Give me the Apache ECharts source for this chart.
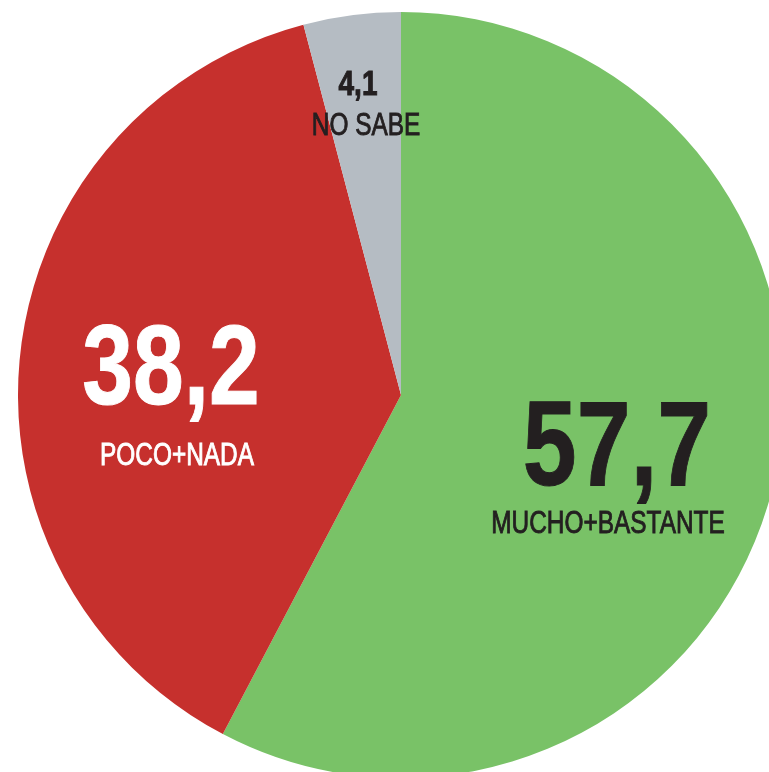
<!DOCTYPE html>
<html>
<head>
<meta charset="utf-8">
<script src="https://cdn.jsdelivr.net/npm/echarts@6/dist/echarts.min.js"></script>
<style>
html,body{margin:0;padding:0;background:#fff;}
#chart{width:769px;height:772px;}
</style>
</head>
<body>
<div id="chart"></div>
<script>
const categories = ['MUCHO+BASTANTE', 'POCO+NADA', 'NO SABE'];
const values = [57.7, 38.2, 4.1];
const colors = ['#79C267', '#C6302D', '#B5BCC3'];

const FONT = '"Liberation Sans", Arial, sans-serif';
const fmt = v => v.toFixed(1).replace('.', ',');

const chart = echarts.init(document.getElementById('chart'), null, {renderer: 'canvas'});

const labelSpec = [
  {num: {x: 617, y: 452, size: 121, color: '#231F20'}, cat: {x: 608, y: 525, size: 30.5, color: '#231F20'}},
  {num: {x: 171, y: 373, size: 114, color: '#FFFFFF'}, cat: {x: 177, y: 457, size: 30.5, color: '#FFFFFF'}},
  {num: {x: 358, y: 85, size: 35, color: '#231F20'}, cat: {x: 366, y: 127, size: 30.5, color: '#231F20'}}
];
const SX = 0.8;

const graphics = [];
categories.forEach((c, i) => {
  const s = labelSpec[i];
  graphics.push({
    type: 'text', x: s.num.x, y: s.num.y, z: 10, scaleX: SX,
    style: {text: fmt(values[i]), fill: s.num.color, stroke: s.num.color, lineWidth: 1,
            font: 'bold ' + s.num.size + 'px ' + FONT,
            textAlign: 'center', textVerticalAlign: 'middle'}
  });
  graphics.push({
    type: 'text', x: s.cat.x, y: s.cat.y, z: 10, scaleX: SX,
    style: {text: c, fill: s.cat.color, stroke: s.cat.color, lineWidth: 0.9,
            font: s.cat.size + 'px ' + FONT,
            textAlign: 'center', textVerticalAlign: 'middle'}
  });
});

chart.setOption({
  animation: false,
  backgroundColor: '#ffffff',
  series: [{
    type: 'pie',
    center: [401, 395],
    radius: [0, 383],
    startAngle: 90,
    clockwise: true,
    label: {show: false},
    labelLine: {show: false},
    emphasis: {disabled: true},
    itemStyle: {borderWidth: 0},
    data: categories.map((c, i) => ({name: c, value: values[i], itemStyle: {color: colors[i]}}))
  }],
  graphic: graphics
});
</script>
</body>
</html>
